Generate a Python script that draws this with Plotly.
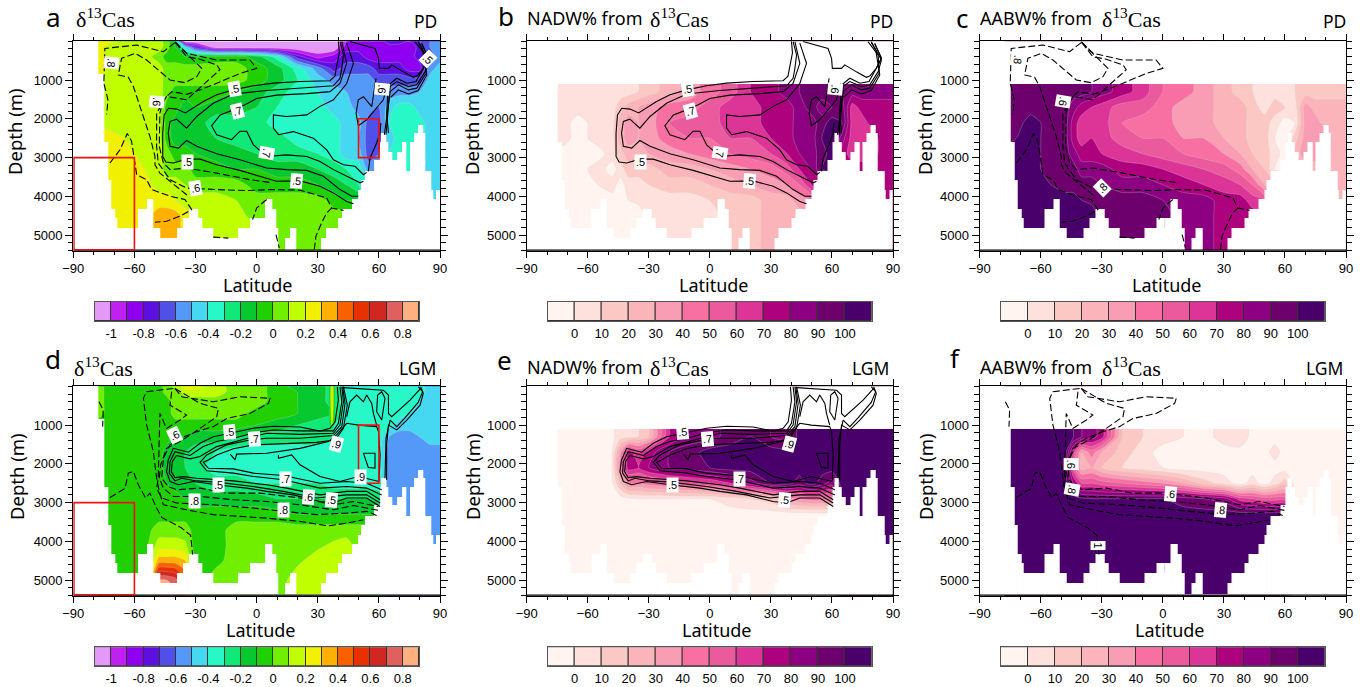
import plotly.graph_objects as go

# ---------- grid of the sections ----------
lat_grid = [-78,-72,-65,-55,-48,-44,-40,-35,-30,-20,-10,0,10,20,30,38,44,50,55,60,65,70,75,80,85,90]
dep_grid = [0,150,400,700,1000,1300,1700,2100,2500,2900,3300,3700,4100,4500,5000,5400]

# ---------- panel a: d13C PD ----------
a_z = [
[.25,.25,.15,.15,.15,.05,-.15,-1.1,-1.1,-1.1,-1.1,-1.1,-1.1,-1.1,-1.1,-1.1,-.9,-.85,-.85,-.85,-.75,-.75,-.8,-.7,-.6,-.55],
[.25,.15,.15,.15,.15,.05,-.1,-.45,-.75,-1.1,-1.1,-1.1,-1.1,-1.1,-1.1,-1.1,-.85,-.85,-.85,-.85,-.85,-.85,-.9,-.75,-.6,-.55],
[.25,.15,.15,.15,.05,-.05,-.05,-.1,-.1,-.05,-.05,-.15,-.35,-.75,-.95,-.85,-.75,-.75,-.85,-.85,-.85,-.85,-.85,-.75,-.65,-.55],
[.25,.15,.15,.15,.15,.05,.05,.05,.05,.05,.05,-.05,-.15,-.35,-.55,-.75,-.65,-.65,-.65,-.75,-.75,-.75,-.85,-.85,-.55,-.45],
[.25,.15,.15,.15,.15,.05,.05,.05,.05,.05,.05,-.05,-.15,-.3,-.45,-.55,-.55,-.55,-.55,-.65,-.65,-.65,-.65,-.65,-.45,-.45],
[.25,.15,.15,.15,.15,.05,-.05,-.05,-.05,-.05,-.1,-.15,-.25,-.35,-.4,-.45,-.5,-.55,-.55,-.55,-.55,-.55,-.55,-.5,-.45,-.45],
[.25,.15,.15,.15,.15,-.05,-.05,-.15,-.1,-.15,-.15,-.2,-.3,-.35,-.35,-.45,-.45,-.55,-.55,-.6,-.45,-.35,-.35,-.45,-.45,-.45],
[.2,.15,.15,.15,.15,-.05,-.15,-.15,-.15,-.25,-.25,-.25,-.35,-.35,-.35,-.35,-.45,-.45,-.65,-.65,-.4,-.35,-.35,-.35,-.45,-.45],
[.2,.25,.2,.15,.15,-.05,-.15,-.15,-.15,-.2,-.25,-.25,-.25,-.35,-.35,-.35,-.45,-.5,-.65,-.65,-.45,-.35,-.35,-.35,-.45,-.45],
[.25,.25,.25,.15,.15,.05,-.05,-.05,-.1,-.15,-.15,-.2,-.25,-.25,-.3,-.35,-.45,-.45,-.65,-.6,-.4,-.35,-.35,-.35,-.45,-.45],
[.25,.25,.25,.2,.15,.05,.05,.05,-.05,-.05,-.1,-.1,-.15,-.15,-.2,-.25,-.3,-.35,-.55,-.55,-.4,-.35,-.35,-.35,-.45,-.45],
[.25,.25,.25,.25,.15,.15,.15,.1,.05,.05,.05,-.05,-.05,-.05,-.1,-.15,-.2,-.3,-.4,-.45,-.45,-.45,-.45,-.45,-.45,-.45],
[.25,.25,.25,.25,.25,.25,.2,.15,.15,.15,.1,.05,.05,.05,.05,-.05,-.1,-.1,-.4,-.45,-.45,-.45,-.45,-.45,-.45,-.45],
[.25,.25,.25,.25,.35,.35,.35,.25,.15,.15,.15,.05,.05,.05,.05,.05,.05,.05,-.4,-.45,-.45,-.45,-.45,-.45,-.45,-.45],
[.25,.25,.25,.25,.35,.35,.35,.25,.15,.15,.15,.15,.05,.05,.05,.05,.05,.05,-.4,-.45,-.45,-.45,-.45,-.45,-.45,-.45],
[.25,.25,.25,.25,.35,.35,.35,.25,.15,.15,.15,.15,.05,.05,.05,.05,.05,.05,-.4,-.45,-.45,-.45,-.45,-.45,-.45,-.45],
]
# ---------- panel d: d13C LGM ----------
d_z = [
[.05,-.05,-.05,-.05,-.05,.05,.15,.25,.25,.15,.05,.05,-.05,-.15,-.15,-.25,-.35,-.35,-.35,-.35,-.35,-.35,-.35,-.35,-.45,-.45],
[.05,-.05,-.05,-.05,-.05,.05,.05,.15,.15,.15,.05,.05,-.05,-.1,-.15,-.25,-.35,-.35,-.35,-.35,-.35,-.35,-.35,-.35,-.45,-.45],
[.05,-.05,-.05,-.05,-.05,-.05,.05,.05,.05,.05,.05,.05,-.05,-.1,-.15,-.25,-.35,-.35,-.35,-.35,-.35,-.35,-.35,-.4,-.45,-.45],
[.05,-.05,-.05,-.05,-.05,-.05,.05,.05,.05,.05,.05,-.05,-.05,-.1,-.15,-.2,-.35,-.35,-.35,-.35,-.35,-.35,-.4,-.45,-.45,-.45],
[-.05,-.05,-.05,-.05,-.05,-.05,-.05,-.05,-.05,-.05,-.05,-.1,-.15,-.2,-.25,-.3,-.35,-.35,-.35,-.35,-.35,-.45,-.45,-.45,-.45,-.45],
[-.05,-.05,-.05,-.05,-.05,-.05,-.1,-.1,-.15,-.15,-.2,-.25,-.25,-.25,-.25,-.3,-.35,-.35,-.35,-.35,-.5,-.55,-.55,-.5,-.45,-.45],
[-.05,-.05,-.05,-.05,-.05,-.15,-.2,-.2,-.25,-.3,-.35,-.35,-.35,-.35,-.35,-.4,-.35,-.35,-.35,-.35,-.55,-.55,-.55,-.55,-.55,-.55],
[-.05,-.05,-.05,-.05,-.05,-.15,-.2,-.2,-.25,-.35,-.35,-.35,-.35,-.35,-.35,-.4,-.35,-.35,-.35,-.35,-.55,-.55,-.55,-.55,-.55,-.55],
[-.05,-.05,-.05,-.05,-.05,-.1,-.15,-.2,-.2,-.25,-.25,-.3,-.3,-.3,-.3,-.35,-.35,-.35,-.35,-.35,-.55,-.55,-.55,-.55,-.55,-.55],
[-.05,-.05,-.05,-.05,-.05,-.05,-.05,-.1,-.15,-.15,-.15,-.15,-.2,-.2,-.2,-.2,-.2,-.2,-.2,-.25,-.55,-.55,-.55,-.55,-.55,-.55],
[-.05,-.05,-.05,-.05,-.05,-.05,-.05,-.05,-.05,-.05,-.05,-.05,-.05,-.1,-.1,-.1,-.1,-.1,-.1,-.1,-.55,-.55,-.55,-.55,-.55,-.55],
[-.05,-.05,-.05,-.05,.05,.05,.05,.05,-.05,-.05,.05,.05,.05,.05,.05,.05,.05,.05,.05,.05,-.55,-.55,-.55,-.55,-.55,-.55],
[-.05,-.05,-.05,-.05,.15,.15,.15,.12,-.05,-.05,.05,.05,.05,.05,.08,.12,.15,.05,.05,.05,-.55,-.55,-.55,-.55,-.55,-.55],
[-.05,-.05,-.05,-.05,.35,.35,.35,.3,-.05,-.03,.05,.05,.05,.08,.15,.15,.15,.05,.05,.05,-.55,-.55,-.55,-.55,-.55,-.55],
[-.05,-.05,-.05,-.05,.8,.8,.75,.5,-.05,.05,.05,.05,.05,.15,.15,.15,.15,.05,.05,.05,-.55,-.55,-.55,-.55,-.55,-.55],
[-.05,-.05,-.05,-.05,.85,.85,.85,.5,-.05,.05,.05,.05,.05,.15,.15,.15,.15,.05,.05,.05,-.55,-.55,-.55,-.55,-.55,-.55],
]
# ---------- panel b: NADW% PD ----------
b_z = [
[5,5,5,5,5,5,5,10,15,25,35,45,55,70,75,85,90,95,95,95,90,85,85,85,85,85],
[5,5,5,5,5,5,5,10,15,25,35,45,55,70,75,85,90,95,95,95,90,85,85,85,85,85],
[5,5,5,5,5,5,5,10,15,25,35,45,55,70,75,85,90,95,95,95,90,85,85,85,85,85],
[5,5,5,5,5,5,5,10,15,25,35,45,55,70,75,85,90,95,95,95,90,85,85,85,85,85],
[5,5,5,5,5,5,5,10,15,25,35,45,55,70,75,85,90,95,95,95,90,85,85,85,85,85],
[5,5,5,5,5,5,5,10,15,25,35,45,55,70,75,85,90,95,95,95,90,85,85,85,85,85],
[5,5,5,5,5,15,25,30,35,45,45,55,65,65,75,75,85,95,85,90,95,65,75,75,75,75],
[5,5,-5,5,5,25,35,30,35,50,55,55,65,65,75,75,85,85,95,105,100,65,65,75,75,75],
[5,5,-5,5,5,25,35,30,35,45,50,50,60,60,70,75,85,85,100,105,85,65,65,65,75,75],
[-5,-5,-5,-5,5,15,25,25,30,35,40,45,50,55,60,70,80,85,95,105,75,65,65,65,75,75],
[-5,-5,-5,5,-5,5,15,15,15,25,25,30,35,40,45,55,70,80,100,105,75,75,75,75,75,75],
[-5,-5,-5,0,5,-5,5,5,10,15,15,20,25,30,35,40,50,70,75,75,75,75,75,75,75,75],
[-5,-5,-5,-5,-5,-5,0,2,5,5,5,10,15,15,25,25,35,40,75,75,75,75,75,75,75,75],
[-5,-5,-5,-5,-5,-5,-5,-5,5,5,5,5,15,15,25,25,25,25,75,75,75,75,75,75,75,75],
[-5,-5,-5,-5,-5,-5,-5,5,5,5,5,5,15,15,25,25,25,25,75,75,75,75,75,75,75,75],
[-5,-5,-5,-5,-5,-5,-5,5,5,5,5,5,15,15,25,25,25,25,75,75,75,75,75,75,75,75],
]
# ---------- panel c: AABW% PD ----------
c_z = [
[95,95,95,95,95,95,95,90,85,75,65,50,45,35,25,15,10,5,5,5,10,15,15,15,15,15],
[95,95,95,95,95,95,95,90,85,75,65,50,45,35,25,15,10,5,5,5,10,15,15,15,15,15],
[95,95,95,95,95,95,95,90,85,75,65,50,45,35,25,15,10,5,5,5,10,15,15,15,15,15],
[95,95,95,95,95,95,95,90,85,75,65,50,45,35,25,15,10,5,5,5,10,15,15,15,15,15],
[95,95,95,95,95,95,95,90,85,75,65,50,45,35,25,15,10,5,5,5,10,15,15,15,15,15],
[95,95,95,95,95,95,95,90,85,75,65,50,45,35,25,15,10,5,5,5,10,15,15,15,15,15],
[95,95,95,95,95,85,75,70,65,55,55,45,35,35,25,25,15,5,15,10,5,35,25,25,25,25],
[95,95,105,95,95,75,65,70,65,50,45,45,35,35,25,25,15,15,5,-5,0,35,35,25,25,25],
[95,100,105,95,95,75,65,70,65,55,50,50,40,40,30,25,15,15,0,-5,15,35,35,35,25,25],
[105,105,105,95,95,85,75,75,70,65,60,55,50,45,40,30,20,15,5,-5,25,35,35,35,25,25],
[105,105,105,95,95,95,85,85,85,75,75,70,65,60,55,45,30,20,0,-5,25,25,25,25,25,25],
[105,105,105,100,95,95,95,95,90,85,85,80,75,70,65,60,50,30,25,25,25,25,25,25,25,25],
[105,105,105,105,105,105,100,98,95,95,95,90,85,85,75,75,65,60,25,25,25,25,25,25,25,25],
[105,105,105,105,105,105,105,105,95,95,95,95,85,85,75,75,75,75,25,25,25,25,25,25,25,25],
[105,105,105,105,105,105,105,95,95,95,95,95,85,85,75,75,75,75,25,25,25,25,25,25,25,25],
[105,105,105,105,105,105,105,95,95,95,95,95,85,85,75,75,75,75,25,25,25,25,25,25,25,25],
]
# ---------- panel e: NADW% LGM ----------
e_z = [
[-5,-5,-5,-5,-2,5,5,10,20,70,85,85,95,100,90,85,105,105,105,105,105,105,105,105,105,105],
[-5,-5,-5,-5,-2,5,5,10,20,70,85,85,95,100,90,85,105,105,105,105,105,105,105,105,105,105],
[-5,-5,-5,-5,-2,5,5,10,20,70,85,85,95,100,90,85,105,105,105,105,105,105,105,105,105,105],
[-5,-5,-5,-5,-2,5,5,10,20,70,85,85,95,100,90,85,105,105,105,105,105,105,105,105,105,105],
[-5,-5,-5,-5,-2,5,5,10,20,70,85,85,95,100,90,85,105,105,105,105,105,105,105,105,105,105],
[-5,-5,-5,-5,-2,5,5,10,20,70,85,85,95,100,90,85,105,105,105,105,105,105,105,105,105,105],
[-5,-5,-5,-5,0,35,75,60,75,90,95,105,105,105,105,105,105,105,105,105,105,105,105,105,105,105],
[-5,-5,-5,-5,0,45,75,70,80,90,95,100,105,105,105,105,105,105,105,105,105,105,105,105,105,105],
[-5,-5,-5,-5,-2,20,40,40,45,50,55,60,70,85,100,105,95,105,95,85,105,105,105,105,105,105],
[-5,-5,-5,-5,-5,-5,-2,0,0,0,0,0,5,10,15,35,40,45,45,45,105,105,105,105,105,105],
[-5,-5,-5,-5,-5,-5,-5,-5,-5,-5,-5,-5,-5,-5,-5,-5,-5,-5,-5,-5,105,105,105,105,105,105],
[-5,-5,-5,-5,-5,-5,-5,-5,-5,-5,-5,-5,-5,-5,-5,-5,-5,-5,-5,-5,105,105,105,105,105,105],
[-5,-5,-5,-5,-5,-5,-5,-5,-5,-5,-5,-5,-5,-5,-5,-5,-5,-5,-5,-5,105,105,105,105,105,105],
[-5,-5,-5,-5,-5,-5,-5,-5,-5,-5,-5,-5,-5,-5,-5,-5,-5,-5,-5,-5,105,105,105,105,105,105],
[-5,-5,-5,-5,-5,-5,-5,-5,-5,-5,-5,-5,-5,-5,-5,-5,-5,-5,-5,-5,105,105,105,105,105,105],
[-5,-5,-5,-5,-5,-5,-5,-5,-5,-5,-5,-5,-5,-5,-5,-5,-5,-5,-5,-5,105,105,105,105,105,105],
]
# ---------- panel f: AABW% LGM ----------
f_z = [
[105,105,105,105,105,100,90,85,75,20,10,5,0,-5,5,10,-5,-5,-5,-5,-5,-5,-5,-5,-5,-5],
[105,105,105,105,105,100,90,85,75,20,10,5,0,-5,5,10,-5,-5,-5,-5,-5,-5,-5,-5,-5,-5],
[105,105,105,105,105,100,90,85,75,20,10,5,0,-5,5,10,-5,-5,-5,-5,-5,-5,-5,-5,-5,-5],
[105,105,105,105,105,100,90,85,75,20,10,5,0,-5,5,10,-5,-5,-5,-5,-5,-5,-5,-5,-5,-5],
[105,105,105,105,105,100,90,85,75,20,10,5,0,-5,5,10,-5,-5,-5,-5,-5,-5,-5,-5,-5,-5],
[105,105,105,105,105,100,90,85,75,20,10,5,0,-5,5,10,-5,-5,-5,-5,-5,-5,-5,-5,-5,-5],
[105,105,105,105,105,65,30,45,30,15,5,-5,-5,-5,-5,-5,-5,-5,5,-5,-5,-5,-5,-5,-5,-5],
[105,105,105,105,105,55,25,30,20,10,5,0,-5,-5,-5,-5,-5,-5,-5,-5,-5,-5,-5,-5,-5,-5],
[105,105,105,105,105,80,60,60,55,50,45,40,30,15,5,-5,5,-5,5,15,-5,-5,-5,-5,-5,-5],
[105,105,105,105,105,105,102,100,100,100,100,100,95,90,85,65,60,55,55,55,-5,-5,-5,-5,-5,-5],
[105,105,105,105,105,105,105,105,105,105,105,105,105,105,105,105,105,105,105,105,-5,-5,-5,-5,-5,-5],
[105,105,105,105,105,105,105,105,105,105,105,105,105,105,105,105,105,105,105,105,-5,-5,-5,-5,-5,-5],
[105,105,105,105,105,105,105,105,105,105,105,105,105,105,105,105,105,105,105,105,-5,-5,-5,-5,-5,-5],
[105,105,105,105,105,105,105,105,105,105,105,105,105,105,105,105,105,105,105,105,-5,-5,-5,-5,-5,-5],
[105,105,105,105,105,105,105,105,105,105,105,105,105,105,105,105,105,105,105,105,-5,-5,-5,-5,-5,-5],
[105,105,105,105,105,105,105,105,105,105,105,105,105,105,105,105,105,105,105,105,-5,-5,-5,-5,-5,-5],
]
# narrow warm plume in panel d
plume_lat = [35.6,36.3,37.0,37.7,38.4]
plume_dep = [0,500,1000]
plume_z = [[-.25,.05,.35,.05,-.25],[-.25,.05,.35,.05,-.25],[-.25,-.05,.15,-.05,-.25]]

# ---------- colour levels ----------
d13c_colors = ["#e599f7","#c020f0","#8f00f0","#5c10e0","#5050e8","#5599f8","#45d8f0","#28f8c8","#10e878","#08c830",
               "#20d000","#70f000","#c0ff00","#f0f000","#ffb000","#f86000","#e83000","#d02820","#e06060","#ffb080"]
d13c_box = [-1.05,-.95,-.85,-.75,-.65,-.55,-.45,-.35,-.25,-.15,-.05,.05,.15,.25,.35,.45,.55,.65,.75,.85]
d13c_ticks = [-1,-.8,-.6,-.4,-.2,0,.2,.4,.6,.8]
d13c_text = ["-1","-0.8","-0.6","-0.4","-0.2","0","0.2","0.4","0.6","0.8"]
pct_colors = ["#fff4f0","#fee0dc","#fcc8c4","#fbb4b9","#f99db4","#f770a1","#ea5a9d","#dd3497","#ae017e","#8c0081","#6e006e","#49006a"]
pct_box = [-5,5,15,25,35,45,55,65,75,85,95,105]
pct_ticks = [0,10,20,30,40,50,60,70,80,90,100]
pct_text = ["0","10","20","30","40","50","60","70","80","90","100"]

# ---------- sea floor (edges of latitude cells, depth of floor in each cell) ----------
floor_edges = [-90,-77.7,-75,-72.6,-71.5,-69.5,-68.5,-57.4,-53.3,-50.5,-47.4,-38.6,-35.6,-32.7,-28.6,-26.6,-21.4,-8.6,-2.4,.7,1.5,4.5,7.5,9.4,10.6,14.6,16.8,19.6,32.3,34.5,40.5,42.5,47.5,50.3,51.7,53.6,58.2,61,61.8,63.5,64.7,66.8,69.7,71.8,73.4,75.7,77.7,79.7,81.7,82.7,85.8,86.6,88.7,90]
floor_depth = [0,870,2640,3600,4350,4600,4850,4350,4100,4850,5100,4850,4600,4350,4600,4850,5100,4850,4600,4850,4600,4100,4350,4850,5400,5100,4850,5400,5100,4850,4600,4350,4100,3860,3600,3370,3100,2640,2400,2640,2880,3100,2880,2640,3370,2640,2400,2180,2400,3370,3860,4100,3860]
mask_top_depth = 1100

# ---------- red boxes: lat0, lat1, depth0, depth1 ----------
box_south = [-89.7,-60,3000,5375]
box_pd = [50,60,2000,3000]
box_lgm = [50,60,1000,2500]

# ---------- PD solid contours ----------
pd_s1_lat = [40.1,40.6,39.3,38.4,36,21.3,8.2,-1.6,-11.4,-19.6,-26.2,-31.1,-35,-39.2,-43.3,-45.4,-46.1,-46.1,-44.6,-40.9,-34.3,-27.8,-19.6,-8.2,1.6,9.8,21.3,31.1,37.7,44.2,47.5]
pd_s1_dep = [0,300,650,900,1020,1040,1080,1150,1255,1380,1555,1725,1850,1750,1730,1900,2370,2970,3115,3140,3040,3040,3185,3330,3490,3610,3600,3740,3910,4130,4190]
pd_s2_lat = [40.9,42.6,41.8,40.9,37.7,21.3,4.9,-11.4,-21.3,-29.4,-34.4,-39.3,-42.5,-43.4,-42.5,-38.4,-34.4,-29.4,-19.6,-8.2,4.9,14.7,24.6,32.8,40.9,46.7,49.9]
pd_s2_dep = [10,355,700,955,1150,1210,1270,1360,1600,1940,2240,2010,2070,2370,2710,2755,2560,2710,2900,3055,3270,3310,3330,3480,3825,3995,3995]
pd_s3_lat = [41.8,44.2,40.9,36,24.6,9.8,0,-5.7,-11.4,-17.9,-22.1,-19.6,-12.3,-8.2,-4.9,-1.6,4.9,14.7,24.6,31.1,37.7,44.2,50.8,52.4]
pd_s3_dep = [10,570,1090,1300,1350,1390,1475,1640,1770,1900,2180,2410,2540,2320,2320,2670,2970,2930,2970,3100,3310,3480,3650,3610]
pd_s4_lat = [44.2,47.5,44.2,37.7,31.1,24.6,14.7,8.2,8.2,10.7,18,27.8,34.4,37.7,42.6,48.3,52.4,54]
pd_s4_dep = [50,570,1090,1510,1680,1900,1940,1900,2240,2410,2330,2500,2800,3055,3185,3225,3440,3380]
pd_s5_lat = [45.8,58.1,59.8,60.2,64.7,66.3,72,76.9,78.6,81.8,84.3,81]
pd_s5_dep = [10,190,440,700,700,610,790,930,900,700,440,60]
pd_s6_lat = [64.7,63.8,64.7,68.8,73.7,78.2,81.8,84.3,81]
pd_s6_dep = [2370,1855,1130,955,1085,1040,700,440,60]
pd_s7_lat = [63.5,64.7,65.5,68.8,74.5,78.6,82.7,84.3,79.3]
pd_s7_dep = [2410,1510,1170,1040,1170,1125,785,485,10]
pd_s8_lat = [62.7,65.5,69.6,74.5,78.6,83.2,82.7,77.7]
pd_s8_dep = [2410,1300,1125,1255,1210,825,355,10]
pd_s9_lat = [65.8,69.6,74.5,79.3,83.5,81.5,79.3]
pd_s9_dep = [1445,1255,1360,1270,870,225,35]
pd_s10_lat = [58.6,57,56.5,52.4,49.9,48.8,49.9,54,58.9,62.2,64.3]
pd_s10_dep = [955,1430,1685,1430,1510,1855,2180,2025,1725,1510,1085]
pd_s11_lat = [61,60.5,58.9,55.7,54.8]
pd_s11_dep = [2110,2370,2625,3010,3355]
# ---------- PD dashed contours ----------
pd_d1_lat = [-40.1,-34.4,-19.6,-3.3,0,-8.2,-19.6,-27.8,-34.4,-41.7,-45.8,-47.5,-47.8,-45.8,-42.5,-34.4,-19.6,-3.3,6.5]
pd_d1_dep = [10,310,485,485,700,830,1085,1255,1370,1300,1510,1855,2710,3140,3310,3270,3400,3570,3640]
pd_d2_lat = [-39.8,-34.4,-27.8,-19.6,-18,-24.5,-34.4,-44.2,-49.1,-49.1,-48.3,-42.5,-34.4,-19.6,-4.9,8.2,21.3,34.4,36.8,42.6]
pd_d2_dep = [35,400,465,610,735,1040,1510,1425,1855,2710,3140,3570,3785,3825,3850,3825,3840,4040,4300,4360]
pd_d3_lat = [-39.8,-27,-29.4,-35.2,-42.5,-47.5,-54,-59.7,-66.3,-67.9,-63,-60.5,-55.6,-52.4,-49.9,-49.9,-47.5,-42.5,-33.5]
pd_d3_dep = [35,700,915,1070,1000,785,485,315,440,870,930,1170,1940,2455,2970,3185,3400,3610,3995]
pd_d4_lat = [-40.1,-45.8,-58.9,-74.5,-75,-73,-73.6]
pd_d4_dep = [35,270,100,185,1085,1510,1890]
pd_d5_lat = [-72,-67.1,-63.5,-61.4,-60,-58.9,-54,-51.5,-42.5,-35.2,-31.9,-37.6,-44.2,-49.9]
pd_d5_dep = [3140,2800,2380,2575,3055,3440,3570,3825,3995,4080,4340,4510,4640,4665]
pd_d6_lat = [4.9,0,-2]
pd_d6_dep = [4080,4300,4600]
pd_d7_lat = [-21.3,-13.9]
pd_d7_dep = [5050,5075]
pd_d8_lat = [9.5,11.1]
pd_d8_dep = [4985,5325]
pd_d9_lat = [28.3,29.1,31.9,34.4,36.8]
pd_d9_dep = [5370,5025,4680,4425,4300]
# ---------- LGM solid contours ----------
lg_s1_lat = [39.6,40.1,38.5,36,31.1,21.3,8.2,-1.6,-13,-21.3,-27.8,-33.5,-40.9,-43.4,-44.2,-42.5,-38.4,-31.1,-19.6,-4.9,4.9,18,31.1,37.7,44.2,54,60.6]
lg_s1_dep = [10,355,915,1085,1155,1050,1030,1080,1210,1300,1470,1700,1600,1900,2200,2455,2540,2455,2540,2625,2710,2800,2970,3010,2880,2880,3100]
lg_s2_lat = [40.9,41.8,40.1,37.7,21.3,8.2,0,-11.4,-19.6,-26.2,-32.7,-40.1,-42.5,-42.9,-40.1,-36.8,-29.4,-19.6,-1.6,13.1,29.5,44.2,54,60.6]
lg_s2_dep = [10,400,955,1150,1150,1125,1185,1340,1425,1555,1785,1685,1940,2240,2440,2370,2440,2470,2585,2710,2880,2800,2800,3010]
lg_s3_lat = [41.8,42.6,40.9,37.7,21.3,4.9,-1.6,-11.4,-19.6,-27.8,-32.7,-39.3,-41.4,-41.9,-40.1,-36,-29.4,-11.4,4.9,14.7,31.1,44.2,54,60.6]
lg_s3_dep = [10,400,1000,1210,1240,1210,1300,1445,1555,1810,1870,1785,1940,2200,2355,2330,2370,2440,2540,2625,2800,2710,2710,2925]
lg_s4_lat = [42.2,43.4,41.8,37.7,21.3,4.9,-3.3,-14.7,-24.5,-27.8,-24.5,-11.4,-1.6,13.1,31.1,44.2,54,61.4]
lg_s4_dep = [10,440,1040,1270,1340,1340,1385,1510,1770,1960,2180,2240,2325,2410,2625,2585,2625,2800]
lg_s5_lat = [42.6,44.5,42.6,38.5,29.5,9.8,-1.6,-11.4,-19.6,-23.7,-26.2,-23.7,-11.4,-1.6,13.1,31.1,44.2,54,61.4]
lg_s5_dep = [10,485,1085,1385,1445,1485,1510,1610,1770,1900,1960,2115,2130,2240,2300,2500,2455,2500,2670]
lg_s6_lat = [-13,-10.6,-9.8,4.9,21.3,35.2,39.3,44.2,49.9,58.9,59.8,60.6,60.1]
lg_s6_dep = [1750,1895,1750,1725,1600,1425,1255,955,1000,1040,1170,1770,2455]
lg_s7_lat = [10.7,10.7,17.2,21.3,31.1,40.9,49.9,60.1]
lg_s7_dep = [1770,1855,1770,2025,2325,2455,2325,2455]
lg_s8_lat = [52.4,58.1,58.1,54.8,52.4]
lg_s8_dep = [1725,1725,2110,2095,1725]
lg_s9_lat = [63.8,63.8,64.7,68.8,73.7,80.2,81.8,80.5]
lg_s9_dep = [2410,1510,1000,1125,870,485,185,10]
lg_s10_lat = [63,63.5,65.5,68.8,72.9,79.3,81.5,79.3]
lg_s10_dep = [2370,1340,870,1040,810,415,140,10]
lg_s11_lat = [42.6,62.2,64.7,64.7,66.3,75.3,80.5]
lg_s11_dep = [35,100,225,700,785,355,55]
lg_s12_lat = [59.4,58.9,61.4,63,61.4,59.4]
lg_s12_dep = [225,655,870,310,140,225]
lg_s13_lat = [44.2,45.8,49.1,52.4,54,56.5,57.3,58.9]
lg_s13_dep = [785,400,225,400,225,440,700,1000]
# ---------- LGM dashed contours ----------
lg_d1_lat = [-40.1,-36.8,-21.3,-8.2,6.6,5.8,-3.3,-14.7,-21.3,-29.4,-37.6,-42.5,-45.8,-46.6,-43.4,-39.3,-27.8,-14.7,1.6,21.3,37.7,47.5,59.8]
lg_d1_dep = [55,270,400,270,310,440,700,830,1040,1170,1340,1510,1855,2370,2585,2670,2625,2755,2755,2880,3055,2970,3100]
lg_d2_lat = [-40.1,-27.8,-18.8,-19.6,-27.8,-37.6,-44.2,-47.1,-47.8,-45.8,-40.9,-27.8,-11.4,4.9,21.3,37.7,47.5,59.8]
lg_d2_dep = [55,440,570,785,1085,1425,1600,2025,2370,2625,2840,2840,2925,2970,3055,3185,3075,3200]
lg_d3_lat = [-41.7,-42.5,-34.4,-37.6,-44.2,-47.5,-48.3,-49.1,-46.6,-39.3,-21.3,-1.6,13.1,29.5,44.2,54,58.9]
lg_d3_dep = [140,485,740,870,1085,700,2370,2625,2880,3010,3055,3140,3225,3310,3270,3225,3330]
lg_d4_lat = [-40.9,-54,-55.6,-54,-50.7,-49.1,-47.8,-45.8,-34.4,-21.3,4.9,21.3,35.2,44.2,52.4]
lg_d4_dep = [55,140,310,1000,1685,2370,2710,3055,3185,3310,3400,3485,3600,3530,3440]
lg_d5_lat = [-72,-64.6,-63,-60.5,-58.1,-54.5,-52.4,-49.1,-46.6,-40.9,-36.8,-32.4,-31.4]
lg_d5_dep = [2870,2630,2240,2200,2540,2880,2755,3140,3380,3530,3655,3845,4340]
lg_d6_lat = [-77.4,-75.3,-75.6]
lg_d6_dep = [400,610,1040]

# ---------- contour labels: text, lat, depth, angle ----------
labels_a = [(".5",-11.1,1220,-10),(".7",-9.3,1810,-15),(".6",-48.8,1555,95),(".8",-71.5,570,95),(".6",61.4,1240,95),(".5",84,470,45),
            (".5",-34,3115,0),(".7",4.9,2885,100),(".6",-29.8,3790,-10),(".5",19.7,3610,5)]
labels_b = [(".5",-11.1,1220,-10),(".7",-9.3,1810,-15),(".6",61.4,1240,95),(".5",-34,3115,0),(".7",4.9,2885,100),(".5",19.7,3610,5)]
labels_c = [(".8",-71.5,470,95),(".6",-48.8,1555,100),(".8",-29.8,3790,-45)]
labels_d = [(".6",-40.1,1255,-25),(".5",-13.4,1170,-5),(".7",-1.3,1370,-5),(".9",39,1480,15),(".9",50.8,2345,0),(".7",14.4,2400,0),
            (".5",-18.5,2540,0),(".8",-30.6,2950,0),(".6",25.4,2860,5),(".5",36.8,2920,5),(".8",13.1,3190,0)]
labels_e = [(".5",-13.4,1170,-5),(".7",-1.3,1370,-5),(".9",39,1480,15),(".7",14.4,2400,0),(".5",-18.5,2540,0),(".5",36.8,2920,5)]
labels_f = [(".6",-45,2000,90),(".8",-44.6,2650,100),(".6",3.7,2790,5),(".8",28.3,3200,5),("1",-32,4100,90)]

for z in (a_z, d_z, b_z, c_z, e_z, f_z):
    assert len(z) == len(dep_grid) and all(len(r) == len(lat_grid) for r in z)
assert len(floor_edges) == len(floor_depth) + 1

pd_solid = [(pd_s1_lat,pd_s1_dep),(pd_s2_lat,pd_s2_dep),(pd_s3_lat,pd_s3_dep),(pd_s4_lat,pd_s4_dep),(pd_s5_lat,pd_s5_dep),(pd_s6_lat,pd_s6_dep),
            (pd_s7_lat,pd_s7_dep),(pd_s8_lat,pd_s8_dep),(pd_s9_lat,pd_s9_dep),(pd_s10_lat,pd_s10_dep),(pd_s11_lat,pd_s11_dep)]
pd_dash = [(pd_d1_lat,pd_d1_dep),(pd_d2_lat,pd_d2_dep),(pd_d3_lat,pd_d3_dep),(pd_d4_lat,pd_d4_dep),(pd_d5_lat,pd_d5_dep),(pd_d6_lat,pd_d6_dep),
           (pd_d7_lat,pd_d7_dep),(pd_d8_lat,pd_d8_dep),(pd_d9_lat,pd_d9_dep)]
lg_solid = [(lg_s1_lat,lg_s1_dep),(lg_s2_lat,lg_s2_dep),(lg_s3_lat,lg_s3_dep),(lg_s4_lat,lg_s4_dep),(lg_s5_lat,lg_s5_dep),(lg_s6_lat,lg_s6_dep),(lg_s7_lat,lg_s7_dep),
            (lg_s8_lat,lg_s8_dep),(lg_s9_lat,lg_s9_dep),(lg_s10_lat,lg_s10_dep),(lg_s11_lat,lg_s11_dep),(lg_s12_lat,lg_s12_dep),(lg_s13_lat,lg_s13_dep)]
lg_dash = [(lg_d1_lat,lg_d1_dep),(lg_d2_lat,lg_d2_dep),(lg_d3_lat,lg_d3_dep),(lg_d4_lat,lg_d4_dep),(lg_d5_lat,lg_d5_dep),(lg_d6_lat,lg_d6_dep)]

W, H = 1368, 687
SANS = "Noto Sans"
TICK = "Liberation Sans"
SERIF = "Liberation Serif"
def px(x): return x / W
def py(y): return 1 - y / H

def scale(colors):
    n = len(colors) - 1
    return [[i / n, c] for i, c in enumerate(colors)]

panels = [
 dict(z=a_z, kind="d13c", x0=73.3, x1=440, y0=41.2, y1=250.7, bar=(95,419,302,321), lines=pd_solid+[], dash=pd_dash, labels=labels_a, boxes=[box_south,box_pd], mask=False),
 dict(z=b_z, kind="pct", x0=526.7, x1=893, y0=41.2, y1=250.7, bar=(547.7,872,302,321), lines=pd_solid, dash=[], labels=labels_b, boxes=[], mask=True),
 dict(z=c_z, kind="pct", x0=979.7, x1=1346, y0=41.2, y1=250.7, bar=(1001,1324.7,302,321), lines=[], dash=pd_dash, labels=labels_c, boxes=[], mask=True),
 dict(z=d_z, kind="d13c", x0=73.3, x1=440, y0=386.3, y1=595.7, bar=(95,419,647.3,666.3), lines=lg_solid, dash=lg_dash, labels=labels_d, boxes=[box_south,box_lgm], mask=False),
 dict(z=e_z, kind="pct", x0=526.7, x1=893, y0=386.3, y1=595.7, bar=(547.7,872,647.3,666.3), lines=lg_solid, dash=[], labels=labels_e, boxes=[], mask=True),
 dict(z=f_z, kind="pct", x0=979.7, x1=1346, y0=386.3, y1=595.7, bar=(1001,1324.7,647.3,666.3), lines=[], dash=lg_dash, labels=labels_f, boxes=[], mask=True),
]

fig = go.Figure()
layout = {}
annotations = []
shapes = []
cx = [(a + b) / 2 for a, b in zip(floor_edges[:-1], floor_edges[1:])]
cw = [b - a for a, b in zip(floor_edges[:-1], floor_edges[1:])]
cy = [5400 - f for f in floor_depth]

for i, p in enumerate(panels, start=1):
    xa, ya = f"x{i}", f"y{i}"
    if p["kind"] == "d13c":
        colors, boxes_x, ticks, text = d13c_colors, d13c_box, d13c_ticks, d13c_text
        cont = dict(start=-1, end=.8, size=.1, coloring="fill", showlines=True)
        step = .1
    else:
        colors, boxes_x, ticks, text = pct_colors, pct_box, pct_ticks, pct_text
        cont = dict(start=0, end=100, size=10, coloring="fill", showlines=True)
        step = 10
    fig.add_trace(go.Contour(x=lat_grid, y=dep_grid, z=p["z"], contours=cont, colorscale=scale(colors), showscale=False,
                             line=dict(color="rgba(215,215,215,0.55)", width=0.5, smoothing=0.6), hoverinfo="skip", xaxis=xa, yaxis=ya))
    if i == 4:
        fig.add_trace(go.Contour(x=plume_lat, y=plume_dep, z=plume_z, contours=cont, colorscale=scale(colors), showscale=False,
                                 line=dict(width=0), hoverinfo="skip", xaxis=xa, yaxis=ya))
    fig.add_trace(go.Bar(x=cx, y=cy, base=floor_depth, width=cw, marker=dict(color="white", line=dict(width=1.2, color="white")),
                         hoverinfo="skip", xaxis=xa, yaxis=ya))
    if p["mask"]:
        fig.add_trace(go.Bar(x=[0], y=[mask_top_depth], base=[0], width=[180], marker=dict(color="white", line=dict(width=0)),
                             hoverinfo="skip", xaxis=xa, yaxis=ya))
    for la, de in p["lines"]:
        fig.add_trace(go.Scatter(x=la, y=de, mode="lines", line=dict(color="black", width=1.1), hoverinfo="skip", xaxis=xa, yaxis=ya))
    for la, de in p["dash"]:
        fig.add_trace(go.Scatter(x=la, y=de, mode="lines", line=dict(color="black", width=1.1, dash="7px,3px"), hoverinfo="skip", xaxis=xa, yaxis=ya))
    for t, la, de, ang in p["labels"]:
        annotations.append(dict(x=la, y=de, xref=xa, yref=ya, text=t, showarrow=False, bgcolor="white", borderpad=1, textangle=ang,
                                font=dict(family=TICK, size=11, color="black")))
    # bottom thick line, then the red boxes over it
    shapes.append(dict(type="line", x0=-90, x1=90, y0=5400, y1=5400, xref=xa, yref=ya, line=dict(color="black", width=2.2), layer="above"))
    for b in p["boxes"]:
        shapes.append(dict(type="rect", x0=b[0], x1=b[1], y0=b[2], y1=b[3], xref=xa, yref=ya, line=dict(color="#f01010", width=1.6), layer="above"))

    suffix = str(i)
    layout["xaxis" + suffix] = dict(domain=[px(p["x0"]), px(p["x1"])], anchor=ya, range=[-90, 90], tick0=-90, dtick=30, ticks="outside", ticklen=6,
        tickcolor="black", tickwidth=1.3, showline=True, linecolor="black", linewidth=1.3, mirror="ticks", showgrid=False, zeroline=False,
        tickfont=dict(family=TICK, size=13, color="black"),
        minor=dict(dtick=10, tick0=-90, ticks="outside", ticklen=3.5, tickcolor="black", tickwidth=1.3, showgrid=False))
    layout["yaxis" + suffix] = dict(domain=[py(p["y1"]), py(p["y0"])], anchor=xa, range=[5400, 0], tickvals=[1000,2000,3000,4000,5000], ticktext=["1000","2000","3000","4000","5000"],
        ticks="outside", ticklen=7, tickcolor="black", tickwidth=1.3, showline=True, linecolor="black", linewidth=1.3, mirror="ticks", showgrid=False, zeroline=False,
        tickfont=dict(family=TICK, size=13, color="black"),
        minor=dict(dtick=200, tick0=0, ticks="outside", ticklen=4.5, tickcolor="black", tickwidth=1.3, showgrid=False))

    # colour key as bars on its own small axes
    k = i + 6
    xk, yk = f"x{k}", f"y{k}"
    fig.add_trace(go.Bar(x=boxes_x, y=[1]*len(boxes_x), width=[step]*len(boxes_x), marker=dict(color=colors, line=dict(color="#333", width=1)),
                         hoverinfo="skip", xaxis=xk, yaxis=yk))
    bx0, bx1, by0, by1 = p["bar"]
    layout[f"xaxis{k}"] = dict(domain=[px(bx0), px(bx1)], anchor=yk, range=[boxes_x[0]-step/2, boxes_x[-1]+step/2], tickvals=ticks, ticktext=text,
        ticks="", showline=True, linecolor="#555", linewidth=1, mirror=True, showgrid=False, zeroline=False,
        tickfont=dict(family=TICK, size=13, color="black"))
    layout[f"yaxis{k}"] = dict(domain=[py(by1), py(by0)], anchor=xk, range=[0, 1], showticklabels=False, ticks="", showline=True, linecolor="#555",
        linewidth=1, mirror=True, showgrid=False, zeroline=False)

def note(x, y, text, family=SANS, size=17, anchor="center", angle=0):
    annotations.append(dict(x=px(x), y=py(y), xref="paper", yref="paper", text=text, showarrow=False, xanchor=anchor, yanchor="middle",
                            textangle=angle, font=dict(family=family, size=size, color="black")))

# axis titles
for x, y in [(258,285),(714,285),(1167,285),(261,630),(717,630),(1170,630)]:
    note(x, y, "Latitude", size=18)
for x, y in [(14,132),(471,132),(924,132),(17,477),(473,477),(926,477)]:
    note(x, y, "Depth (m)", angle=-90, size=18.5)
# panel letters
for x, y, t in [(53,17,"a"),(506,16,"b"),(962,18,"c"),(53,359,"d"),(504,360,"e"),(955,358,"f")]:
    note(x, y, t, size=26)
# panel titles
d13 = "δ<sup>13</sup>Cas"
note(74, 18, d13, family=SERIF, size=22, anchor="left")
note(72, 367, d13, family=SERIF, size=22, anchor="left")
note(525, 18, "NADW% from", size=18, anchor="left")
note(648, 18, d13, family=SERIF, size=22, anchor="left")
note(978, 18, "AABW% from", size=18, anchor="left")
note(1100, 18, d13, family=SERIF, size=22, anchor="left")
note(525, 367, "NADW% from", size=18, anchor="left")
note(648, 367, d13, family=SERIF, size=22, anchor="left")
note(978, 367, "AABW% from", size=18, anchor="left")
note(1100, 367, d13, family=SERIF, size=22, anchor="left")
for x, y, t in [(439,21,"PD"),(895,21,"PD"),(1348,21,"PD"),(438,368,"LGM"),(891,368,"LGM"),(1345,368,"LGM")]:
    note(x, y, t, size=17.5, anchor="right")

fig.update_layout(width=W, height=H, margin=dict(l=0, r=0, t=0, b=0, autoexpand=False), autosize=False, showlegend=False, barmode="overlay", bargap=0,
                  paper_bgcolor="white", plot_bgcolor="white", annotations=annotations, shapes=shapes, **layout)
fig.write_html("out.html", config=dict(displayModeBar=False), post_script="document.body.style.margin='0';")
